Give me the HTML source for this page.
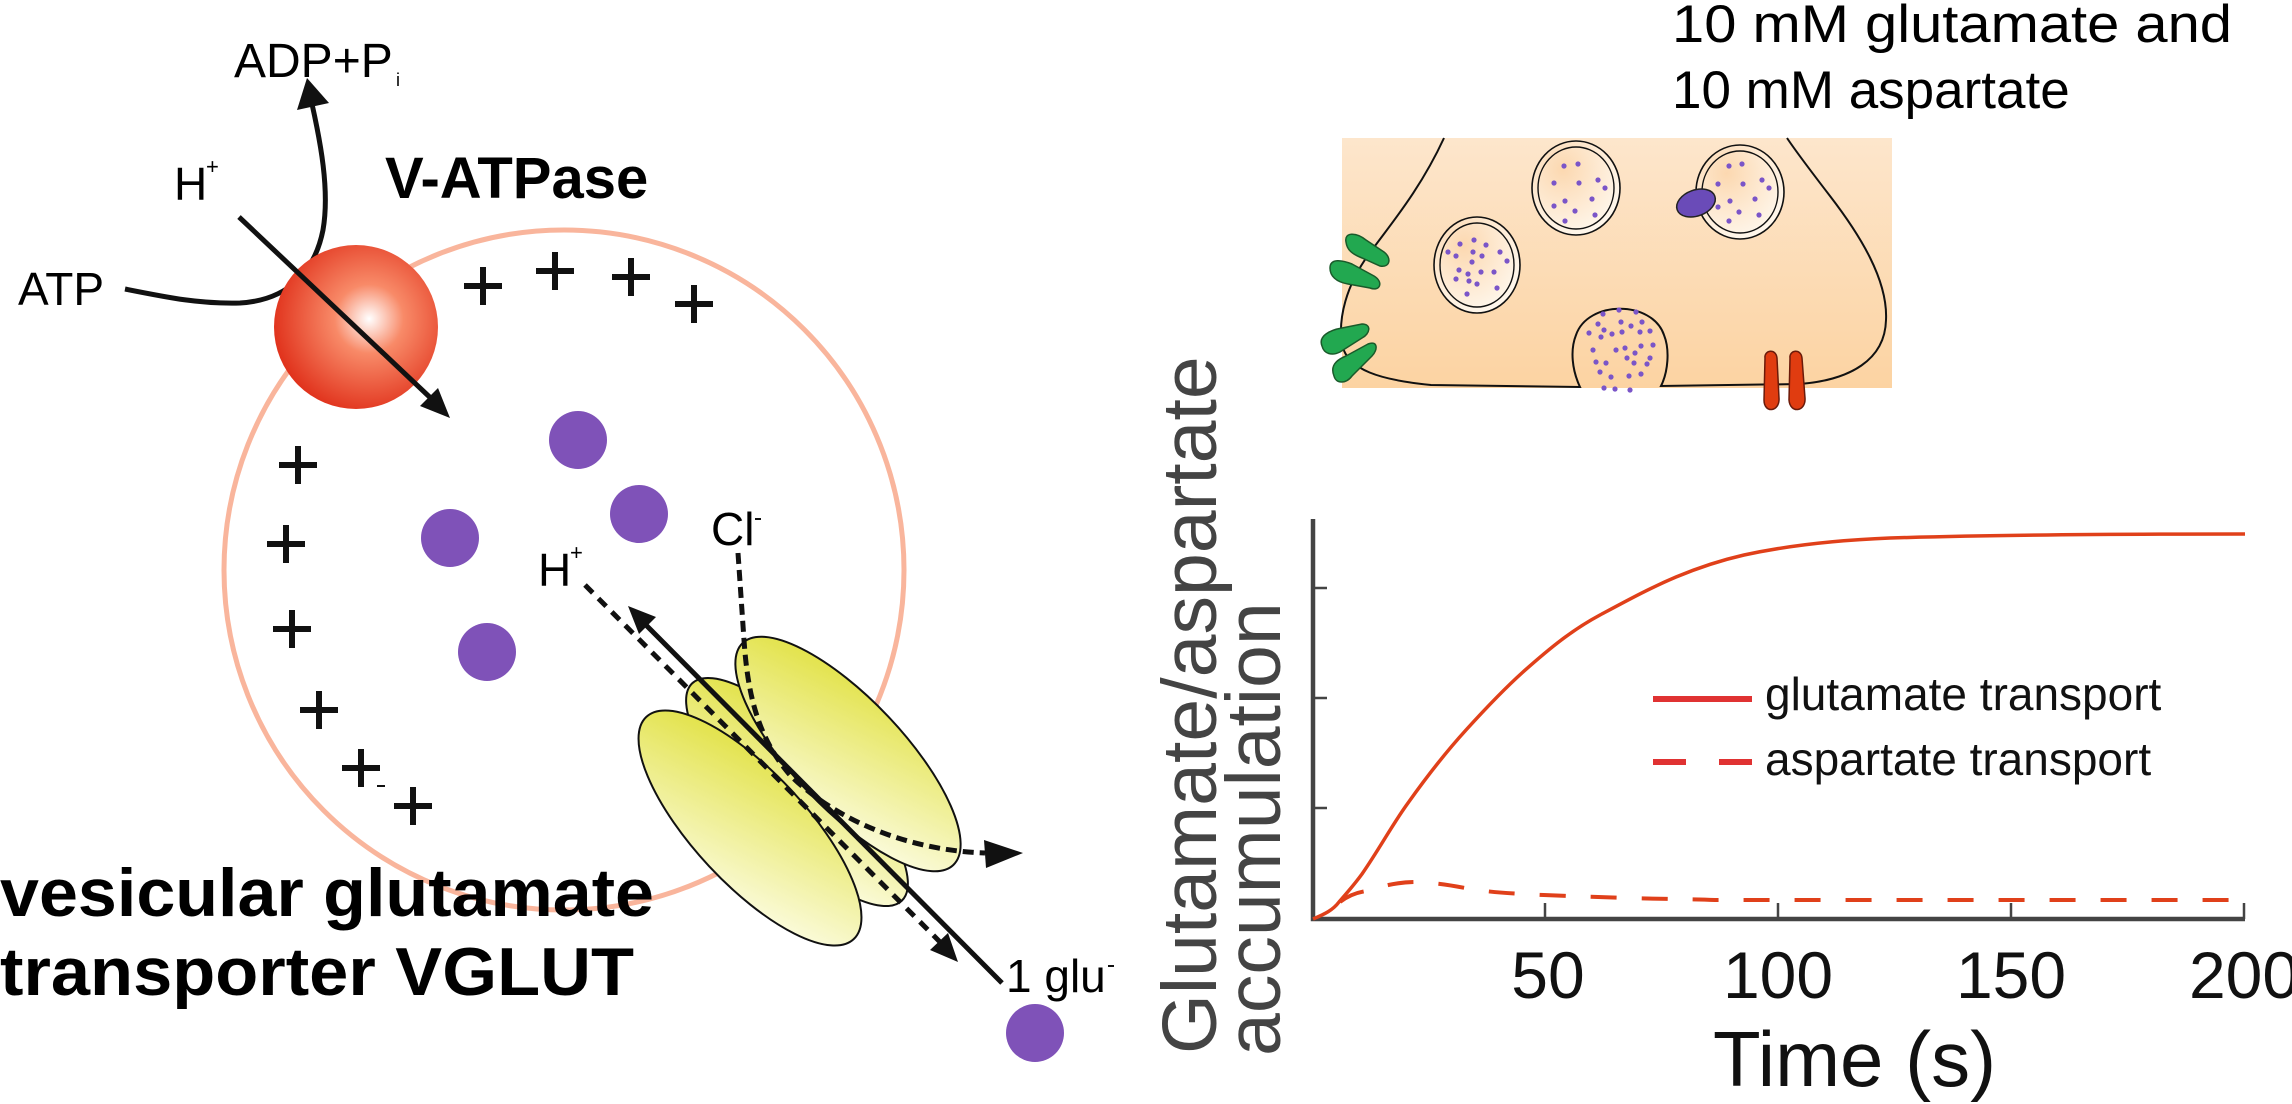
<!DOCTYPE html>
<html><head><meta charset="utf-8"><style>html,body{margin:0;padding:0;background:#fff;}svg{display:block;}</style></head>
<body>
<svg width="2292" height="1104" viewBox="0 0 2292 1104" xmlns="http://www.w3.org/2000/svg" font-family="Liberation Sans, Arial, sans-serif">
<defs>
<radialGradient id="sph" cx="0.58" cy="0.45" r="0.6">
<stop offset="0" stop-color="#ffffff"/><stop offset="0.35" stop-color="#f88a68"/><stop offset="1" stop-color="#e0301a"/>
</radialGradient>
<linearGradient id="yel" x1="0" y1="0" x2="1" y2="1">
<stop offset="0" stop-color="#dede30"/><stop offset="1" stop-color="#fffff4"/>
</linearGradient>
<linearGradient id="syn" x1="0" y1="0" x2="0" y2="1">
<stop offset="0" stop-color="#fde6cc"/><stop offset="1" stop-color="#fcd3a2"/>
</linearGradient>
<radialGradient id="ves" cx="0.35" cy="0.3" r="0.8">
<stop offset="0" stop-color="#fcd8b0"/><stop offset="1" stop-color="#fffaf2"/>
</radialGradient>
</defs>

<circle cx="564" cy="570" r="340" fill="none" stroke="#f9b59c" stroke-width="5"/>

<path d="M125,289 C170,298 200,304 240,303 C290,300 315,270 323,230 C330,190 320,140 312,104" fill="none" stroke="#111" stroke-width="5"/>
<polygon points="307,78 297,110 329,103" fill="#111"/>

<circle cx="356" cy="327" r="82" fill="url(#sph)"/>
<line x1="239" y1="217" x2="437" y2="404" stroke="#111" stroke-width="5"/>
<polygon points="450,418 420,406 438,388" fill="#111"/>

<text x="18" y="305" font-size="46">ATP</text>
<text x="234" y="77" font-size="48">ADP+P</text>
<text x="396" y="86" font-size="18">i</text>
<text x="174" y="200" font-size="46">H</text>
<text x="206" y="174" font-size="22">+</text>
<text x="385" y="198" font-size="58" font-weight="bold">V-ATPase</text>

<g stroke="#111" stroke-width="6">
<path d="M483,267v38M464,286h38"/>
<path d="M555,252v38M536,271h38"/>
<path d="M631,258v38M612,277h38"/>
<path d="M694,285v38M675,304h38"/>
<path d="M298,446v38M279,465h38"/>
<path d="M286,525v38M267,544h38"/>
<path d="M292,610v38M273,629h38"/>
<path d="M319,691v38M300,710h38"/>
<path d="M361,749v38M342,768h38"/>
<path d="M413,787v38M394,806h38"/>
</g>
<line x1="377" y1="786" x2="385" y2="786" stroke="#111" stroke-width="2"/>

<g fill="#7f52b8">
<circle cx="578" cy="440" r="29"/>
<circle cx="639" cy="514" r="29"/>
<circle cx="450" cy="538" r="29"/>
<circle cx="487" cy="652" r="29"/>
<circle cx="1035" cy="1033" r="29"/>
</g>

<g stroke="#111" stroke-width="2" fill="url(#yel)">
<ellipse cx="797" cy="792" rx="151" ry="50" transform="rotate(46 797 792)"/>
<ellipse cx="848" cy="754" rx="153" ry="55" transform="rotate(46.5 848 754)"/>
<ellipse cx="750" cy="828" rx="152" ry="56" transform="rotate(47 750 828)"/>
</g>

<path d="M738,553 L744,640 C748,700 760,740 790,775 C830,815 900,850 985,853" fill="none" stroke="#111" stroke-width="5" stroke-dasharray="11,6"/>
<polygon points="1023,853 984,840 986,868" fill="#111"/>

<line x1="585" y1="585" x2="945" y2="947" stroke="#111" stroke-width="5" stroke-dasharray="11,8"/>
<polygon points="958,962 930,950 948,933" fill="#111"/>

<line x1="1002" y1="983" x2="640" y2="619" stroke="#111" stroke-width="5"/>
<polygon points="628,606 656,617 639,634" fill="#111"/>

<text x="538" y="586" font-size="46">H</text>
<text x="570" y="560" font-size="22">+</text>
<text x="711" y="545" font-size="46">Cl</text>
<line x1="755" y1="519" x2="761" y2="519" stroke="#111" stroke-width="2"/>
<text x="1006" y="992" font-size="46">1 glu</text>
<line x1="1108" y1="966" x2="1114" y2="966" stroke="#111" stroke-width="2"/>

<text x="0" y="916" font-size="68" font-weight="bold" textLength="654" lengthAdjust="spacingAndGlyphs">vesicular glutamate</text>
<text x="0" y="995" font-size="68" font-weight="bold" textLength="634" lengthAdjust="spacingAndGlyphs">transporter VGLUT</text>

<text x="1672" y="42" font-size="53" textLength="560" lengthAdjust="spacingAndGlyphs">10 mM glutamate and</text>
<text x="1672" y="108" font-size="53">10 mM aspartate</text>

<rect x="1342" y="138" width="550" height="250" fill="url(#syn)"/>
<path d="M1444,138 C1420,190 1390,225 1372,250 C1345,285 1338,320 1342,345 C1348,370 1380,380 1431,385 L1580,387 C1572,370 1570,350 1576,335 C1588,300 1652,300 1664,335 C1670,350 1668,372 1661,386 L1800,384 C1850,380 1885,360 1886,320 C1888,280 1860,235 1830,196 C1810,170 1795,150 1787,138" fill="none" stroke="#111" stroke-width="2"/>
<g fill="url(#ves)" stroke="#111" stroke-width="1.6">
<ellipse cx="1477" cy="265" rx="43" ry="48"/>
<ellipse cx="1576" cy="188" rx="44" ry="47"/>
<ellipse cx="1740" cy="192" rx="44" ry="47"/>
</g>
<g fill="none" stroke="#111" stroke-width="1.4">
<ellipse cx="1477" cy="265" rx="37" ry="42"/>
<ellipse cx="1576" cy="188" rx="38" ry="41"/>
<ellipse cx="1740" cy="192" rx="38" ry="41"/>
</g>
<g fill="#7a55c8">
<circle cx="1448" cy="252" r="2.6"/><circle cx="1460" cy="244" r="2.6"/><circle cx="1474" cy="240" r="2.6"/><circle cx="1486" cy="245" r="2.6"/><circle cx="1500" cy="252" r="2.6"/><circle cx="1456" cy="256" r="2.6"/><circle cx="1473" cy="252" r="2.6"/><circle cx="1482" cy="256" r="2.6"/><circle cx="1472" cy="262" r="2.6"/><circle cx="1507" cy="261" r="2.6"/><circle cx="1459" cy="270" r="2.6"/><circle cx="1468" cy="274" r="2.6"/><circle cx="1481" cy="272" r="2.6"/><circle cx="1494" cy="272" r="2.6"/><circle cx="1456" cy="279" r="2.6"/><circle cx="1469" cy="281" r="2.6"/><circle cx="1477" cy="284" r="2.6"/><circle cx="1497" cy="288" r="2.6"/><circle cx="1467" cy="294" r="2.6"/>
<circle cx="1564" cy="166" r="2.6"/><circle cx="1578" cy="164" r="2.6"/><circle cx="1554" cy="183" r="2.6"/><circle cx="1579" cy="183" r="2.6"/><circle cx="1598" cy="180" r="2.6"/><circle cx="1605" cy="188" r="2.6"/><circle cx="1565" cy="201" r="2.6"/><circle cx="1592" cy="199" r="2.6"/><circle cx="1554" cy="206" r="2.6"/><circle cx="1575" cy="211" r="2.6"/><circle cx="1595" cy="215" r="2.6"/><circle cx="1565" cy="221" r="2.6"/>
<circle cx="1729" cy="166" r="2.6"/><circle cx="1742" cy="164" r="2.6"/><circle cx="1718" cy="184" r="2.6"/><circle cx="1743" cy="184" r="2.6"/><circle cx="1762" cy="180" r="2.6"/><circle cx="1769" cy="188" r="2.6"/><circle cx="1730" cy="201" r="2.6"/><circle cx="1755" cy="199" r="2.6"/><circle cx="1718" cy="207" r="2.6"/><circle cx="1739" cy="212" r="2.6"/><circle cx="1759" cy="215" r="2.6"/><circle cx="1729" cy="221" r="2.6"/>
<circle cx="1603" cy="314" r="2.6"/><circle cx="1619" cy="310" r="2.6"/><circle cx="1636" cy="312" r="2.6"/><circle cx="1598" cy="324" r="2.6"/><circle cx="1604" cy="330" r="2.6"/><circle cx="1621" cy="322" r="2.6"/><circle cx="1631" cy="326" r="2.6"/><circle cx="1642" cy="322" r="2.6"/><circle cx="1589" cy="333" r="2.6"/><circle cx="1601" cy="337" r="2.6"/><circle cx="1612" cy="334" r="2.6"/><circle cx="1622" cy="332" r="2.6"/><circle cx="1640" cy="332" r="2.6"/><circle cx="1650" cy="331" r="2.6"/><circle cx="1641" cy="346" r="2.6"/><circle cx="1653" cy="345" r="2.6"/><circle cx="1593" cy="350" r="2.6"/><circle cx="1616" cy="350" r="2.6"/><circle cx="1625" cy="348" r="2.6"/><circle cx="1635" cy="353" r="2.6"/><circle cx="1650" cy="358" r="2.6"/><circle cx="1596" cy="362" r="2.6"/><circle cx="1606" cy="363" r="2.6"/><circle cx="1627" cy="358" r="2.6"/><circle cx="1634" cy="363" r="2.6"/><circle cx="1647" cy="364" r="2.6"/><circle cx="1600" cy="372" r="2.6"/><circle cx="1611" cy="377" r="2.6"/><circle cx="1629" cy="376" r="2.6"/><circle cx="1641" cy="374" r="2.6"/><circle cx="1604" cy="388" r="2.6"/><circle cx="1615" cy="389" r="2.6"/><circle cx="1630" cy="390" r="2.6"/>
</g>
<ellipse cx="1696" cy="203" rx="20" ry="13" transform="rotate(-20 1696 203)" fill="#6a4bb8" stroke="#222" stroke-width="1.5"/>
<g fill="#22a850" stroke="#1a5a2a" stroke-width="1.5">
<path d="M1346,242 C1344,232 1356,232 1366,240 L1384,252 C1392,258 1390,268 1380,266 L1362,258 C1352,254 1347,250 1346,242Z"/>
<path d="M1330,268 C1330,258 1342,260 1352,264 L1374,276 C1384,282 1380,292 1370,288 L1348,284 C1336,282 1330,276 1330,268Z"/>
<path d="M1322,346 C1318,336 1330,330 1342,328 L1362,324 C1372,324 1370,334 1362,338 L1340,352 C1332,356 1324,354 1322,346Z"/>
<path d="M1334,376 C1330,366 1336,360 1346,356 L1368,344 C1378,340 1378,350 1372,356 L1352,376 C1346,384 1336,384 1334,376Z"/>
</g>
<g fill="#e03c10" stroke="#6a1a0a" stroke-width="1.5">
<path d="M1765,358 C1764,350 1776,348 1777,358 L1779,398 C1780,412 1764,414 1764,400Z"/>
<path d="M1790,358 C1789,350 1801,348 1802,358 L1805,398 C1806,412 1790,414 1789,400Z"/>
</g>

<g stroke="#444" stroke-width="4.5" fill="none">
<path d="M1313,519 V919 H2245"/>
</g>
<g stroke="#444" stroke-width="2.5">
<path d="M1313,588h14M1313,698h14M1313,808h14"/>
<path d="M1545,919v-16M1778,919v-16M2011,919v-16M2244,919v-16"/>
</g>
<g font-size="66" text-anchor="middle" fill="#111">
<text x="1548" y="998">50</text>
<text x="1778" y="998">100</text>
<text x="2011" y="998">150</text>
<text x="2244" y="998">200</text>
</g>
<text x="1713" y="1086" font-size="78" fill="#111">Time (s)</text>
<g font-size="77" fill="#444">
<text transform="translate(1216,1054) rotate(-90)">Glutamate/aspartate</text>
<text transform="translate(1280,1056) rotate(-90)">accumulation</text>
</g>

<path d="M1313,919 C1325,914 1333,910 1339,902 C1346,894 1354,885 1362,874 C1380,848 1392,825 1408,803 C1430,772 1446,752 1466,730 C1486,708 1503,690 1523,672 C1550,648 1572,630 1600,615 C1628,600 1650,588 1676,577 C1700,567 1722,560 1744,555 C1790,545 1840,540 1890,538 C1990,535 2100,534 2245,534" fill="none" stroke="#e0401a" stroke-width="3.5"/>
<path d="M1340,902 C1350,894 1360,892 1366,891 C1385,885 1400,882 1416,882 C1440,883 1455,886 1470,889 C1490,892 1505,893 1523,894 C1560,896 1600,897 1627,898 C1660,899 1690,899 1715,900 L2245,900" fill="none" stroke="#e0401a" stroke-width="4" stroke-dasharray="26,25"/>

<line x1="1653" y1="699" x2="1752" y2="699" stroke="#e03232" stroke-width="6"/>
<path d="M1653,762h33M1719,762h33" stroke="#e03232" stroke-width="6"/>
<text x="1765" y="710" font-size="46" fill="#111">glutamate transport</text>
<text x="1765" y="775" font-size="46" fill="#111">aspartate transport</text>
</svg>
</body></html>
